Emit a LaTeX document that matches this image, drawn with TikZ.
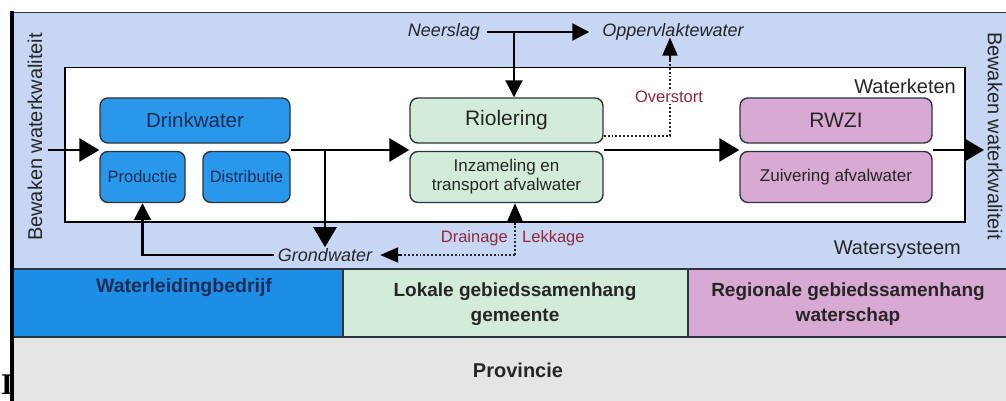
\documentclass[tikz,border=0pt]{standalone}
\usepackage{fontspec}
\setmainfont{Liberation Sans}
\newfontfamily\serifI{Liberation Serif}
\usetikzlibrary{arrows.meta,calc}
\definecolor{sysblue}{HTML}{C7D6F2}
\definecolor{boxblue}{HTML}{2A98EA}
\definecolor{bandblue}{HTML}{1C8EE6}
\definecolor{boxgreen}{HTML}{D3ECD9}
\definecolor{boxpink}{HTML}{D8A9D3}
\definecolor{provgrey}{HTML}{E5E5E5}
\definecolor{navytext}{HTML}{1B2C55}
\definecolor{darktext}{HTML}{262626}
\definecolor{redtext}{HTML}{8E2A3E}
\definecolor{edge}{HTML}{2E3440}
\newcommand{\fs}[1]{\fontsize{#1}{#1}\selectfont}
\begin{document}
\begin{tikzpicture}[x=1pt,y=-1pt,
  unit/.style={rectangle, rounded corners=8pt, draw=edge, line width=1.4pt, inner sep=0pt, align=center},
  dwbox/.style={unit, fill=boxblue, text=navytext},
  gbox/.style={unit, fill=boxgreen, text=darktext},
  pbox/.style={unit, fill=boxpink, text=darktext},
  lbl/.style={inner sep=1pt, text=darktext},
  redlbl/.style={inner sep=1pt, text=redtext, font=\fs{16.5}},
  bandtxt/.style={inner sep=0pt, align=center, font=\bfseries\fs{19}, text=darktext},
  flow/.style={line width=2.8pt, -{Triangle[length=20pt,width=23pt]}},
  thinflow/.style={line width=2.2pt, -{Triangle[length=17pt,width=17pt]}},
  dotline/.style={line width=1.9pt, dotted, draw=darktext},
  solidtip/.style={line width=2pt, draw=black, fill=black, -{Triangle[length=18pt,width=15pt]}}
]
\useasboundingbox (0,0) rectangle (1006,401);
% backgrounds
\fill[white] (0,0) rectangle (1006,401);
\fill[sysblue] (12,12) rectangle (1006,269);
\fill[bandblue] (12,269) rectangle (343,337);
\fill[boxgreen] (343,269) rectangle (688,337);
\fill[boxpink] (688,269) rectangle (1006,337);
\fill[provgrey] (12,337) rectangle (1006,401);
\draw[line width=1.5pt, edge] (12,12.5) -- (1006,12.5);
\draw[line width=1.8pt, edge] (12,269) -- (1006,269);
\draw[line width=1.8pt, edge] (12,337) -- (1006,337);
\draw[line width=1.5pt, edge] (343,269) -- (343,337);
\draw[line width=1.5pt, edge] (688,269) -- (688,337);
\draw[line width=3.5pt, black] (12,11) -- (12,401);
% water chain box
\draw[line width=1.8pt, fill=white] (65,67.5) rectangle (965,222);
\node[lbl, anchor=east, font=\fs{20}] (wk) at (957,86) {Waterketen};
\node[lbl, anchor=east, font=\fs{20}] (ws) at (962,250) {Watersysteem};
% side labels
\node[lbl, rotate=90, font=\fs{20}] (bwl) at (35,137) {Bewaken waterkwaliteit};
\node[lbl, rotate=-90, font=\fs{20}] (bwr) at (995,136) {Bewaken waterkwaliteit};
% boxes
\node[dwbox, minimum width=190pt, minimum height=45pt, font=\fs{20.5}] (dw) at (195,120.5) {Drinkwater};
\node[dwbox, minimum width=85pt, minimum height=51pt, font=\fs{16.5}] (prod) at (142.5,177) {Productie};
\node[dwbox, minimum width=87pt, minimum height=51pt, font=\fs{16.5}] (dist) at (246.5,177) {Distributie};
\node[gbox, minimum width=193pt, minimum height=45pt, font=\fs{21}] (rio) at (506.5,120.5) {Riolering};
\node[gbox, minimum width=193pt, minimum height=51pt, font=\fs{17}] (inz) at (506.5,177) {Inzameling en\\[2pt]transport afvalwater};
\node[pbox, minimum width=192pt, minimum height=45pt, font=\fs{21}] (rwzi) at (836,120.5) {RWZI};
\node[pbox, minimum width=192pt, minimum height=51pt, font=\fs{17}] (zuiv) at (836,177) {Zuivering afvalwater};
% outside labels
\node[lbl, font=\itshape\fs{18}] (neer) at (444,32) {Neerslag};
\node[lbl, font=\itshape\fs{18}] (opp) at (673,32) {Oppervlaktewater};
\node[lbl, font=\itshape\fs{18}] (gw) at (325,255) {Grondwater};
% main flow
\coordinate (inL) at (48,150);
\coordinate (outR) at (984,150);
\coordinate (br) at (325,150);
\draw[flow] (inL) -- (inL -| prod.west);
\draw[flow] (inL -| dist.east) -- (inL -| rio.west);
\draw[flow] (br) -- (br |- gw.north);
\draw[flow] (inL -| rio.east) -- (inL -| rwzi.west);
\draw[flow] (inL -| rwzi.east) -- (outR);
% groundwater to production
\draw[thinflow, shorten <=3pt] (gw.west) -| (prod.south);
% rain
\coordinate (nb) at (514,32);
\draw[thinflow, shorten <=6pt, shorten >=12pt] (neer.east) -- (opp.west);
\draw[thinflow] (nb) -- (nb |- rio.north);
% overflow
\coordinate (ov) at (670,136);
\coordinate (ovt) at ([yshift=4pt]ov |- opp.south);
\draw[dotline] (rio.east |- ov) -- (ov) -- ([yshift=-8pt]ovt);
\draw[solidtip] ([yshift=-22pt]ovt) -- (ovt);
\node[redlbl, fill=white, inner sep=1pt] (ovl) at (669,97) {Overstort};
% drainage / leakage
\coordinate (dl) at (515,255);
\coordinate (gwe) at ([xshift=7pt]gw.east);
\coordinate (inzb) at (dl |- inz.south);
\draw[dotline] (dl) -- ([xshift=8pt]gwe);
\draw[solidtip] ([xshift=22pt]gwe) -- (gwe);
\draw[dotline] (dl) -- ([yshift=-8pt]inzb);
\draw[solidtip] ([yshift=-22pt]inzb) -- (inzb);
\node[redlbl, anchor=east] (drn) at (509,238) {Drainage};
\node[redlbl, anchor=west] (lek) at (521,238) {Lekkage};
% bands
\node[bandtxt, text=navytext, font=\bfseries\fs{19.5}] (wlb) at (184,287) {Waterleidingbedrijf};
\node[bandtxt] (lok) at (515,304) {Lokale gebiedssamenhang\\[6pt]gemeente};
\node[bandtxt] (reg) at (848,304) {Regionale gebiedssamenhang\\[6pt]waterschap};
\node[bandtxt, font=\bfseries\fs{20}] (prov) at (518,370) {Provincie};
\node[inner sep=0pt, font=\serifI\bfseries\fs{30}] (stray) at (7,385) {I};
\end{tikzpicture}
\end{document}
